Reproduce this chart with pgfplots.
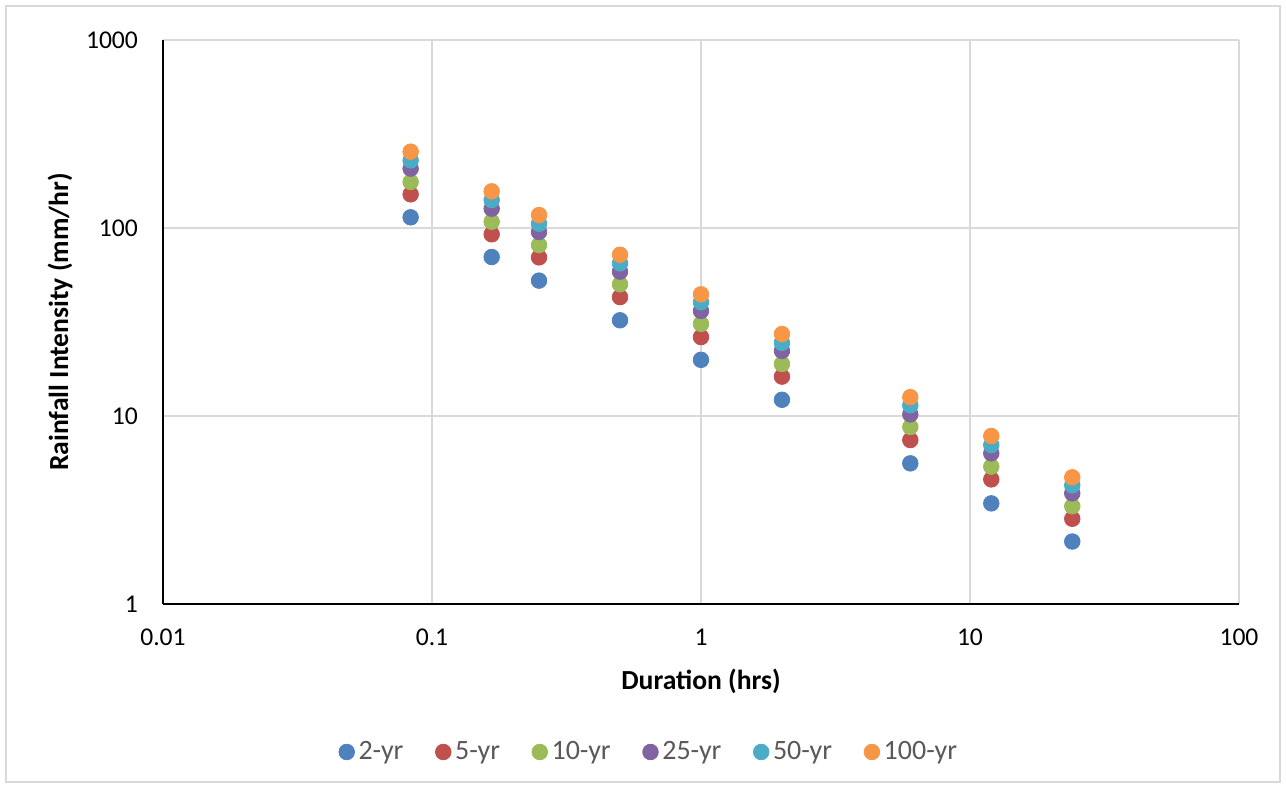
\documentclass[border=0pt]{standalone}
\usepackage{pgfplots}
\pgfplotsset{compat=1.18}
\usepackage{fontspec}
\setmainfont{Carlito}

\definecolor{sBlue}{HTML}{4F81BD}
\definecolor{sRed}{HTML}{C0504D}
\definecolor{sGreen}{HTML}{9BBB59}
\definecolor{sPurple}{HTML}{8064A2}
\definecolor{sCyan}{HTML}{4BACC6}
\definecolor{sOrange}{HTML}{F79646}
\definecolor{gridgray}{HTML}{D9D9D9}
\definecolor{txtgray}{HTML}{595959}

\begin{document}
\begin{tikzpicture}
% chart frame and page extent
\useasboundingbox (-81.5pt,-92pt) rectangle (561.5pt,302pt);
\draw[gridgray, line width=0.8pt] (-78.5pt,-89pt) rectangle (558.5pt,299pt);
\begin{axis}[
  scale only axis,
  width=538pt, height=282pt,
  xmode=log, ymode=log,
  xmin=0.01, xmax=100, ymin=1, ymax=1000,
  axis x line*=bottom, axis y line*=left,
  axis line style={black, line width=0.8pt, -},
  xtick={0.01,0.1,1,10,100},
  xticklabels={0.01,0.1,1,10,100},
  ytick={1,10,100,1000},
  yticklabels={1,10,100,1000},
  xminorticks=false, yminorticks=false,
  major tick length=0pt,
  grid=major,
  major grid style={gridgray, line width=0.8pt},
  tick label style={font=\fontsize{12.8}{14}\selectfont, black},
  xticklabel style={yshift=-9pt},
  yticklabel style={xshift=-9pt},
  xlabel={Duration (hrs)},
  ylabel={Rainfall Intensity (mm/hr)},
  label style={font=\fontsize{13.8}{15}\selectfont\bfseries, black},
  xlabel style={at={(axis description cs:0.5,-0.1365)}, anchor=center},
  ylabel style={at={(axis description cs:-0.0957,0.5)}, anchor=center},
  legend columns=6,
  legend image code/.code={\draw[#1] plot coordinates {(0.12cm,0cm)};},
  legend style={at={(axis description cs:0.4526,-0.2624)}, anchor=center,
    draw=none, fill=none, font=\fontsize{14}{15}\selectfont, text=txtgray,
    nodes={inner xsep=2pt},
    /tikz/every even column/.append style={column sep=14pt}},
  legend cell align=left,
  clip=false,
]
\addplot[only marks, mark=*, mark size=3.9pt, color=sBlue] coordinates {
 (0.0833,114) (0.1667,70.1) (0.25,52.5) (0.5,32.3) (1,19.9) (2,12.2) (6,5.60) (12,3.43) (24,2.15)};
\addlegendentry{2-yr}
\addplot[only marks, mark=*, mark size=3.9pt, color=sRed] coordinates {
 (0.0833,151) (0.1667,92.6) (0.25,69.8) (0.5,42.9) (1,26.3) (2,16.2) (6,7.45) (12,4.60) (24,2.84)};
\addlegendentry{5-yr}
\addplot[only marks, mark=*, mark size=3.9pt, color=sGreen] coordinates {
 (0.0833,175.7) (0.1667,108) (0.25,81.2) (0.5,50.2) (1,30.9) (2,18.9) (6,8.74) (12,5.38) (24,3.31)};
\addlegendentry{10-yr}
\addplot[only marks, mark=*, mark size=3.9pt, color=sPurple] coordinates {
 (0.0833,207) (0.1667,126.7) (0.25,95.2) (0.5,58.6) (1,36.2) (2,22.2) (6,10.2) (12,6.33) (24,3.88)};
\addlegendentry{25-yr}
\addplot[only marks, mark=*, mark size=3.9pt, color=sCyan] coordinates {
 (0.0833,229) (0.1667,140.9) (0.25,105.4) (0.5,64.9) (1,40.3) (2,24.5) (6,11.4) (12,7.01) (24,4.28)};
\addlegendentry{50-yr}
\addplot[only marks, mark=*, mark size=3.9pt, color=sOrange] coordinates {
 (0.0833,254.7) (0.1667,156.7) (0.25,117.2) (0.5,72.1) (1,44.4) (2,27.3) (6,12.6) (12,7.83) (24,4.72)};
\addlegendentry{100-yr}
\end{axis}
\end{tikzpicture}
\end{document}
